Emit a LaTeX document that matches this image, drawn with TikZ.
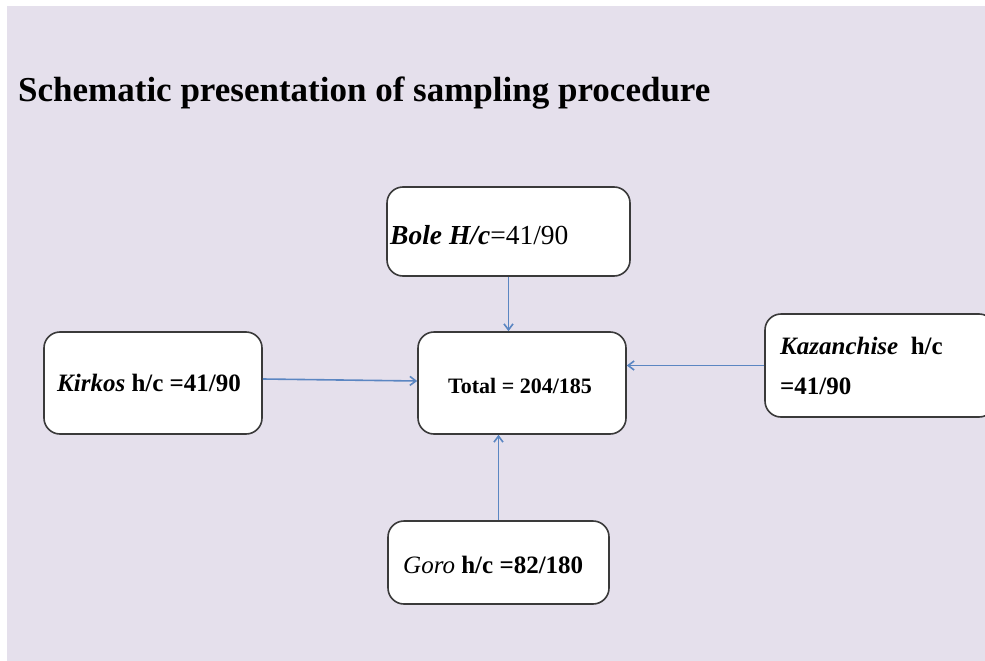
\documentclass[tikz,border=0pt]{standalone}
\usepackage{fontspec}
\setmainfont{Liberation Serif}
\usetikzlibrary{arrows.meta}
\definecolor{bgpurple}{HTML}{E5E0EC}
\definecolor{boxedge}{HTML}{3A3A3A}
\definecolor{arrowblue}{HTML}{5B86C2}
\tikzset{
  box/.style={draw=boxedge, line width=1.6pt, fill=white, rounded corners=16pt, inner sep=0pt},
  lbl/.style={inner sep=0pt, anchor=base west},
  conn/.style={draw=arrowblue, line width=1.6pt, -{Straight Barb[length=6pt,width=9pt]}}
}
\begin{document}
\begin{tikzpicture}[x=1pt,y=-1pt]
\useasboundingbox (0,0) rectangle (985,661);
\fill[white] (0,0) rectangle (985,661);
\fill[bgpurple] (7,6) rectangle (985,661);
\node[lbl, font=\fontsize{35}{38}\selectfont\bfseries] (title) at (18,101) {Schematic presentation of sampling procedure};
% boxes
\node[box, minimum width=243pt, minimum height=89pt] (bolebox) at (508.5,231.5) {};
\node[box, minimum width=208pt, minimum height=102pt] (totalbox) at (522,383) {};
\node[box, minimum width=218pt, minimum height=102pt] (kirkosbox) at (153,383) {};
\node[box, minimum width=230pt, minimum height=103pt] (kazbox) at (880,365.5) {};
\node[box, minimum width=221pt, minimum height=83pt] (gorobox) at (498.5,562.5) {};
% labels
\node[lbl, font=\fontsize{27.5}{30}\selectfont] (bole) at (390,244) {\textbf{\textit{Bole H/c}}=41/90};
\node[lbl, font=\fontsize{22}{24}\selectfont\bfseries] (totallbl) at (448,393) {Total = 204/185};
\node[lbl, font=\fontsize{25}{28}\selectfont\bfseries] (kirkos) at (57,391) {\textit{Kirkos} h/c =41/90};
\node[lbl, font=\fontsize{25}{28}\selectfont\bfseries] (kaz1) at (780,354) {\textit{Kazanchise}~ h/c};
\node[lbl, font=\fontsize{25}{28}\selectfont\bfseries] (kaz2) at (780,394) {=41/90};
\node[lbl, font=\fontsize{25}{28}\selectfont] (goro) at (403,573) {\textit{Goro} \textbf{h/c =82/180}};
% connectors
\draw[conn] (bolebox.south) -- (bolebox.south |- totalbox.north);
\draw[conn] ([yshift=4pt]kirkosbox.east) -- ([yshift=2pt]totalbox.west);
\draw[conn] (kazbox.west) -- (kazbox.west -| totalbox.east);
\draw[conn] (gorobox.north) -- (gorobox.north |- totalbox.south);
\end{tikzpicture}
\end{document}
